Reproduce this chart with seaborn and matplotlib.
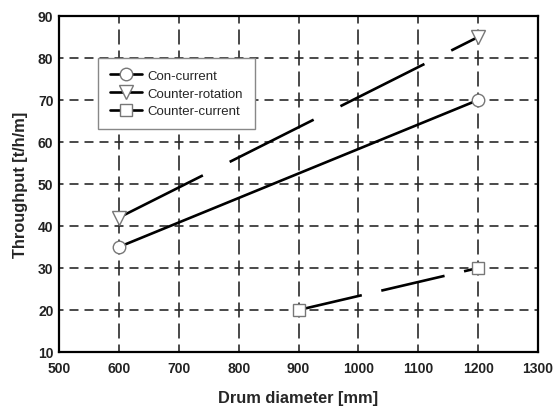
import matplotlib
matplotlib.use("Agg")
import matplotlib.pyplot as plt
import seaborn as sns
import pandas as pd
from matplotlib.lines import Line2D

# ---- data ----
concurrent_x = [600, 1200]
concurrent_y = [35, 70]
counterrot_x = [600, 1200]
counterrot_y = [42, 85]
countercur_x = [900, 1200]
countercur_y = [20, 30]
labels = ["Con-current", "Counter-rotation", "Counter-current"]
x_ticks = [500, 600, 700, 800, 900, 1000, 1100, 1200, 1300]
y_ticks = [10, 20, 30, 40, 50, 60, 70, 80, 90]

sns.set_style("white")
plt.rcParams['font.family'] = ['Liberation Sans', 'DejaVu Sans']
plt.rcParams['lines.scale_dashes'] = False

fig = plt.figure(figsize=(5.55, 4.10), dpi=100)
ax = fig.add_axes([59/555, 1-353/410, (538-59)/555, (353-17)/410])

px = 0.72  # points per pixel at 100 dpi

series = [
    (concurrent_x, concurrent_y, 'o', '-', 9.0),
    (counterrot_x, counterrot_y, 'v', (0, (94*px, 30*px)), 9.5),
    (countercur_x, countercur_y, 's', (0, (65*px, 20*px)), 8.0),
]
handles = []
for (xs, ys, mk, ls, ms), lab in zip(series, labels):
    df = pd.DataFrame({"x": xs, "y": ys})
    sns.lineplot(data=df, x="x", y="y", ax=ax, color="black", linewidth=1.9,
                 marker=mk, markersize=ms, markerfacecolor="white",
                 markeredgecolor="#777777", markeredgewidth=1.0, zorder=5)
    ln = ax.lines[-1]
    ln.set_linestyle(ls)
    ln.set_clip_on(False)
    handles.append(Line2D([0], [0], color="black", linewidth=1.9, marker=mk,
                          markersize=ms, markerfacecolor="white",
                          markeredgecolor="#777777", markeredgewidth=1.0, label=lab))

ax.set_xlim(500, 1300)
ax.set_ylim(10, 90)
ax.set_xticks(x_ticks)
ax.set_yticks(y_ticks)
ax.set_xticklabels([str(v) for v in x_ticks], fontsize=10, fontweight="bold", color="#222222")
ax.set_yticklabels([str(v) for v in y_ticks], fontsize=10, fontweight="bold", color="#222222")
ax.tick_params(axis="x", length=0, pad=6.5)
ax.tick_params(axis="y", length=0, pad=4)

# grid: horizontal lines (y grid) and vertical lines (x grid)
hon, hoff = 9*px, 6*px
von, voff = 15*px, 6*px
ax.yaxis.grid(True, color="#2a2a2a", linewidth=1.2, linestyle=(hon/2, (hon, hoff)))
ax.xaxis.grid(True, color="#2a2a2a", linewidth=1.2, linestyle=(von/2, (von, voff)))
ax.set_axisbelow(True)

for sp in ax.spines.values():
    sp.set_visible(True)
    sp.set_color("black")
    sp.set_linewidth(1.6)

ax.set_xlabel("Drum diameter [mm]", fontsize=11.8, fontweight="bold", labelpad=11)
ax.set_ylabel("Throughput [t/h/m]", fontsize=11.8, fontweight="bold", labelpad=7)

leg = ax.legend(handles=handles, loc="upper left",
                bbox_to_anchor=((98-59)/479, (353-59)/336),
                borderaxespad=0, fontsize=9.5, frameon=True, fancybox=False,
                framealpha=1, edgecolor="#888888", handlelength=2.4,
                labelspacing=0.4, borderpad=0.9, handletextpad=0.45)
leg.get_frame().set_linewidth(1.0)
leg.set_zorder(10)

fig.savefig("out.png", dpi=100, facecolor="white")
